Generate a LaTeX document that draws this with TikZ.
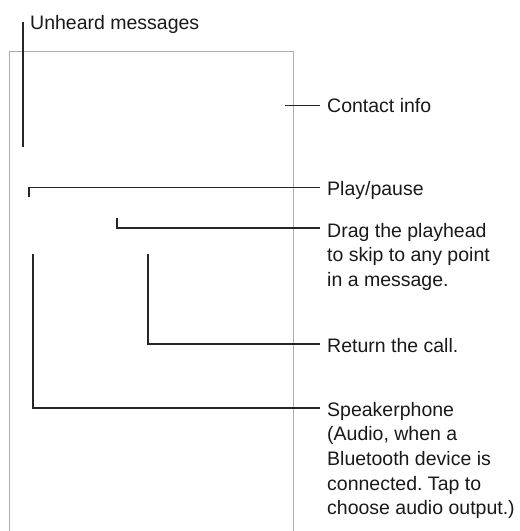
\documentclass[tikz,border=0pt]{standalone}
\usepackage{fontspec}
\setmainfont{Liberation Sans}
\frenchspacing
\begin{document}
\begin{tikzpicture}[x=1pt,y=-1pt,
  lbl/.style={inner sep=0pt, anchor=base west, font=\fontsize{19.5}{24.7}\selectfont, text=black!90},
  mlbl/.style={lbl, align=left},
  lead/.style={draw=black!85, line width=1.2pt},
  frame/.style={draw=black!32, line width=1pt}]
\useasboundingbox (0,0) rectangle (520,531);
% phone outline (open at bottom)
\draw[frame] (9.5,531) -- (9.5,51.7) -- (293,51.7) -- (293,531);
% labels (multi-line nodes: base = baseline of last line)
\node[lbl] (unheard) at (30,29) {Unheard messages};
\node[lbl] (contact) at (327,112) {Contact info};
\node[lbl] (play) at (327,195) {Play/pause};
\node[mlbl] (drag) at (327,286.4) {Drag the playhead\\to skip to any point\\in a message.};
\node[lbl] (ret) at (327,352) {Return the call.};
\node[mlbl] (speaker) at (327,514.8) {Speakerphone\\(Audio, when a\\Bluetooth device is\\connected. Tap to\\choose audio output.)};
% connector points
\coordinate (u1) at (23,22);
\coordinate (u2) at (23,147);
\coordinate (c1) at (285,105.7);
\coordinate (c2) at (320,105.7);
\coordinate (p0) at (29,197);
\coordinate (p1) at (29,187.5);
\coordinate (p2) at (320,187.5);
\coordinate (d0) at (117,218);
\coordinate (d1) at (117,228);
\coordinate (d2) at (320,228);
\coordinate (r0) at (148,254);
\coordinate (r1) at (148,344);
\coordinate (r2) at (320,344);
\coordinate (s0) at (33,254);
\coordinate (s1) at (33,408);
\coordinate (s2) at (320,408);
% connectors
\draw[lead] (u1) -- (u2);
\draw[lead] (c1) -- (c2);
\draw[lead] (p0) -- (p1) -- (p2);
\draw[lead] (d0) -- (d1) -- (d2);
\draw[lead] (r0) -- (r1) -- (r2);
\draw[lead] (s0) -- (s1) -- (s2);
\end{tikzpicture}
\end{document}
